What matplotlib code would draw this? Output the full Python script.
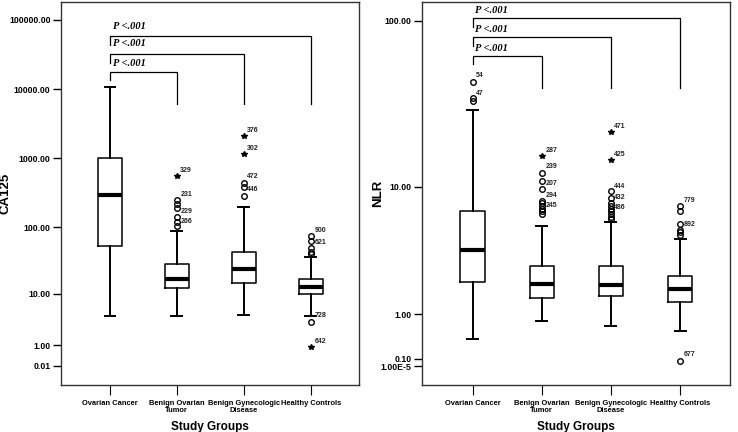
import numpy as np
import matplotlib
matplotlib.use("Agg")
import matplotlib.pyplot as plt

# ---------------- data ----------------
groups = ['Ovarian Cancer', 'Benign Ovarian\nTumor', 'Benign Gynecologic\nDisease', 'Healthy Controls']

# CA125 box stats
ca_whislo = [4.3, 4.3, 4.5, 4.3]
ca_q1 = [54, 12.4, 14.8, 9.9]
ca_med = [295, 17.1, 24.2, 12.7]
ca_q3 = [1010, 29, 44, 17]
ca_whishi = [10600, 88, 199, 37]
ca_circles = [[], [250, 218, 191, 141, 119, 104], [445, 389, 285], [74.7, 63.7, 50.3, 43.9, 40.5, 3.27]]
ca_stars = [[], [556], [2110, 1145], [0.905]]
ca_ids = [(2, 663, '329'), (2, 295, '231'), (2, 167, '229'), (2, 123, '266'),
          (3, 2510, '376'), (3, 1379, '302'), (3, 544, '472'), (3, 356, '446'),
          (4, 90.5, '900'), (4, 60.4, '621'), (4, 4.28, '728'), (4, 1.24, '642')]
ca_ticks = [0.01, 1, 10, 100, 1000, 10000, 100000]
ca_ticklabels = ['0.01', '1.00', '10.00', '100.00', '1000.00', '10000.00', '100000.00']

# NLR box stats
nlr_whislo = [0.43, 0.82, 0.71, 0.59]
nlr_q1 = [2.08, 1.47, 1.55, 1.36]
nlr_med = [3.71, 2.01, 1.96, 1.79]
nlr_q3 = [6.96, 2.80, 2.80, 2.34]
nlr_whishi = [29.8, 5.47, 5.87, 4.46]
nlr_circles = [[43.8, 34.9, 33.6],
               [12.2, 10.9, 9.67, 8.1, 7.8, 7.5, 7.2, 6.9, 6.6],
               [9.33, 8.44, 7.8, 7.5, 7.2, 6.9, 6.6, 6.3, 6.1],
               [7.45, 6.97, 5.67, 5.18, 4.97, 4.76, 0.069]]
nlr_stars = [[], [15.5], [21.8, 14.8], []]
nlr_ids = [(1, 47.5, '54'), (1, 37.4, '47'),
           (2, 16.8, '287'), (2, 13.4, '239'), (2, 10.5, '207'), (2, 8.74, '294'), (2, 7.5, '245'),
           (3, 23.5, '471'), (3, 15.9, '425'), (3, 10.1, '444'), (3, 8.54, '432'), (3, 7.34, '486'),
           (4, 8.2, '779'), (4, 5.67, '892'), (4, 0.17, '677')]
nlr_ticks = [1e-5, 0.1, 1, 10, 100]
nlr_ticklabels = ['1.00E-5', '0.10', '1.00', '10.00', '100.00']

# significance brackets: (target group, line height, left stub end, right stub end, text y)
ca_brackets = [(2, 17900, 13600, 6100, 23700), (3, 32300, 23700, 6100, 46000), (4, 58800, 43600, 6100, 80000)]
nlr_brackets = [(2, 62.5, 55.8, 40.0, 68.5), (3, 80.1, 71.6, 40.0, 88.9), (4, 103.7, 91.9, 40.0, 114.9)]

ca_ylim = (-0.47, 182000)
nlr_ylim = (-0.224, 129)


def fwd(y):
    return np.log10(np.asarray(y, dtype=float) + 1)


def inv(t):
    return 10 ** np.asarray(t, dtype=float) - 1


plt.rcParams['font.family'] = ['Liberation Sans', 'DejaVu Sans']
fig = plt.figure(figsize=(7.38, 4.32), dpi=100)
fig.patch.set_facecolor('white')

ax1 = fig.add_axes([61 / 738, 1 - 385 / 432, 298 / 738, 383 / 432])
ax2 = fig.add_axes([422 / 738, 1 - 385 / 432, 308 / 738, 383 / 432])


def draw(ax, whislo, q1, med, q3, whishi, circles, stars, ids, ticks, ticklabels, brackets, ylim, ylabel, labx):
    ax.set_yscale('function', functions=(fwd, inv))
    stats = []
    for i in range(4):
        stats.append(dict(whislo=whislo[i], q1=q1[i], med=med[i], q3=q3[i], whishi=whishi[i], fliers=[]))
    ax.bxp(stats, positions=[1, 2, 3, 4], widths=0.35, showfliers=False, capwidths=0.16,
           boxprops=dict(color='black', linewidth=1.1),
           whiskerprops=dict(color='black', linewidth=1.4),
           capprops=dict(color='black', linewidth=1.4),
           medianprops=dict(color='black', linewidth=3.0, solid_capstyle='butt'))
    for i in range(4):
        if circles[i]:
            ax.plot([i + 1] * len(circles[i]), circles[i], 'o', mfc='none', mec='black', ms=4, mew=1.0)
        if stars[i]:
            ax.plot([i + 1] * len(stars[i]), stars[i], '*', color='black', ms=4)
    for g, y, t in ids:
        ax.annotate(t, (g, y), xytext=(2.5, 0), textcoords='offset points', fontsize=5, fontweight='bold',
                    va='center', ha='left', color='#222222')
    for g, yl, ys, yr, yt in brackets:
        ax.plot([1, 1, g, g], [ys, yl, yl, yr], color='black', linewidth=0.9)
        ax.text(1.04, yt, 'P <.001', fontsize=7.5, fontweight='bold', fontstyle='italic',
                family='Liberation Serif', va='center', ha='left')
    ax.set_ylim(*ylim)
    ax.set_xlim(0.27, 4.72)
    ax.set_yticks(ticks)
    ax.set_yticklabels(ticklabels)
    ax.yaxis.set_minor_locator(matplotlib.ticker.NullLocator())
    ax.set_xticks([1, 2, 3, 4])
    ax.set_xticklabels(groups, linespacing=1.0)
    ax.tick_params(axis='y', labelsize=6.3, length=6, width=1.0, pad=1.5)
    ax.tick_params(axis='x', labelsize=5.4, length=7, width=0.8, pad=4)
    for lab in ax.get_xticklabels() + ax.get_yticklabels():
        lab.set_fontweight('bold')
    ax.set_xlabel('Study Groups', fontsize=8.5, fontweight='bold', labelpad=5)
    ax.set_ylabel(ylabel, fontsize=9.5, fontweight='bold')
    ax.yaxis.set_label_coords(labx, 0.5)
    for s in ax.spines.values():
        s.set_linewidth(1.0)
        s.set_color('#333333')


draw(ax1, ca_whislo, ca_q1, ca_med, ca_q3, ca_whishi, ca_circles, ca_stars, ca_ids,
     ca_ticks, ca_ticklabels, ca_brackets, ca_ylim, 'CA125', -0.165)
draw(ax2, nlr_whislo, nlr_q1, nlr_med, nlr_q3, nlr_whishi, nlr_circles, nlr_stars, nlr_ids,
     nlr_ticks, nlr_ticklabels, nlr_brackets, nlr_ylim, 'NLR', -0.122)

fig.savefig('out.png', dpi=100, facecolor='white')
